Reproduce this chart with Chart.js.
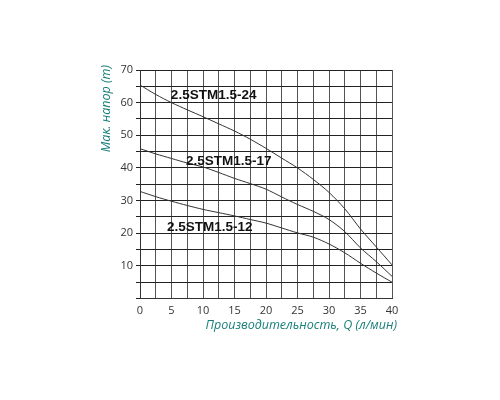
<!DOCTYPE html>
<html>
<head>
<meta charset="utf-8">
<script src="https://cdn.jsdelivr.net/npm/chart.js@4.4.1/dist/chart.umd.min.js"></script>
<style>
  html, body { margin: 0; padding: 0; background: #fff; }
  #wrap { width: 500px; height: 400px; }
</style>
</head>
<body>
<div id="wrap"><canvas id="pumpChart" width="500" height="400"></canvas></div>
<script>
// flow Q (l/min) and head (m) per pump model
const flowQ = [0, 2.5, 5, 7.5, 10, 12.5, 15, 17.5, 20, 22.5, 25, 27.5, 30, 32.5, 35, 37.5, 40];
const head24 = [65.4, 62.5, 60, 57.8, 55.7, 53.5, 51.3, 48.8, 46, 43, 40, 36.5, 32.5, 27.5, 21.3, 15.8, 10.3];
const head17 = [45.9, 44.3, 42.9, 41.5, 40.3, 38.6, 36.8, 35.2, 33.5, 31.1, 28.8, 26.7, 24.2, 20.5, 15.5, 11.3, 6.8];
const head12 = [32.8, 31.2, 29.8, 28.5, 27.3, 26.3, 25.3, 24.2, 23.1, 21.6, 20.1, 18.8, 16.7, 14, 10.8, 7.8, 5];
const modelNames = ["2.5STM1.5-24", "2.5STM1.5-17", "2.5STM1.5-12"];
// where each model name starts on the chart (Q, head)
const labelQ = [4.9, 7.3, 4.3];
const labelHead = [62.2, 42, 21.7];

const xTitle = "Производительность, Q (л/мин)";
const yTitle = "Мак. напор (m)";
const titleColor = "#177f7a";

function toPoints(ys) {
  return flowQ.map((q, i) => ({ x: q, y: ys[i] }));
}

function lineSet(name, ys) {
  return {
    label: name,
    data: toPoints(ys),
    borderColor: "#333333",
    borderWidth: 1,
    pointRadius: 0,
    tension: 0.3,
    fill: false,
  };
}

// draws the model names and axis titles
const textPlugin = {
  id: "textPlugin",
  afterDraw(chart) {
    const ctx = chart.ctx;
    const xs = chart.scales.x;
    const ys = chart.scales.y;
    ctx.save();
    ctx.fillStyle = "#111";
    ctx.font = "bold 13.5px 'Liberation Sans', Arial, sans-serif";
    ctx.textAlign = "left";
    ctx.textBaseline = "middle";
    modelNames.forEach((name, i) => {
      ctx.fillText(name, xs.getPixelForValue(labelQ[i]), ys.getPixelForValue(labelHead[i]));
    });

    ctx.fillStyle = titleColor;
    ctx.font = "italic 12.5px 'Open Sans', sans-serif";
    ctx.textAlign = "right";
    ctx.fillText(xTitle, chart.chartArea.right + 5, 325);

    ctx.translate(106, chart.chartArea.top - 5);
    ctx.rotate(-Math.PI / 2);
    ctx.textAlign = "right";
    ctx.fillText(yTitle, 0, 0);
    ctx.restore();
  },
};

const pumpCtx = document.getElementById("pumpChart").getContext("2d");
const pumpChart = new Chart(pumpCtx, {
  type: "line",
  data: {
    datasets: [
      lineSet(modelNames[0], head24),
      lineSet(modelNames[1], head17),
      lineSet(modelNames[2], head12),
    ],
  },
  options: {
    responsive: false,
    animation: false,
    layout: { padding: { top: 70, right: 108, left: 0, bottom: 0 } },
    plugins: {
      legend: { display: false },
      tooltip: { enabled: false },
    },
    scales: {
      x: {
        type: "linear",
        min: 0,
        max: 40,
        afterFit(scale) { scale.height = 101.5; },
        border: { color: "#333", width: 1 },
        grid: { color: "#555", lineWidth: 1, tickLength: 0 },
        ticks: {
          stepSize: 2.5,
          autoSkip: false,
          maxRotation: 0,
          padding: 6,
          color: "#333",
          font: { family: "'Open Sans', sans-serif", size: 11 },
          callback: (v) => (v % 5 === 0 ? v : ""),
        },
      },
      y: {
        min: 0,
        max: 70,
        afterFit(scale) { scale.width = 140; },
        border: { color: "#333", width: 1 },
        grid: { color: "#222", lineWidth: 1, tickLength: 4 },
        ticks: {
          stepSize: 5,
          autoSkip: false,
          padding: 3,
          color: "#333",
          font: { family: "'Open Sans', sans-serif", size: 11 },
          callback: (v) => (v % 10 === 0 && v > 0 ? v : ""),
        },
      },
    },
  },
  plugins: [textPlugin],
});
</script>
</body>
</html>
